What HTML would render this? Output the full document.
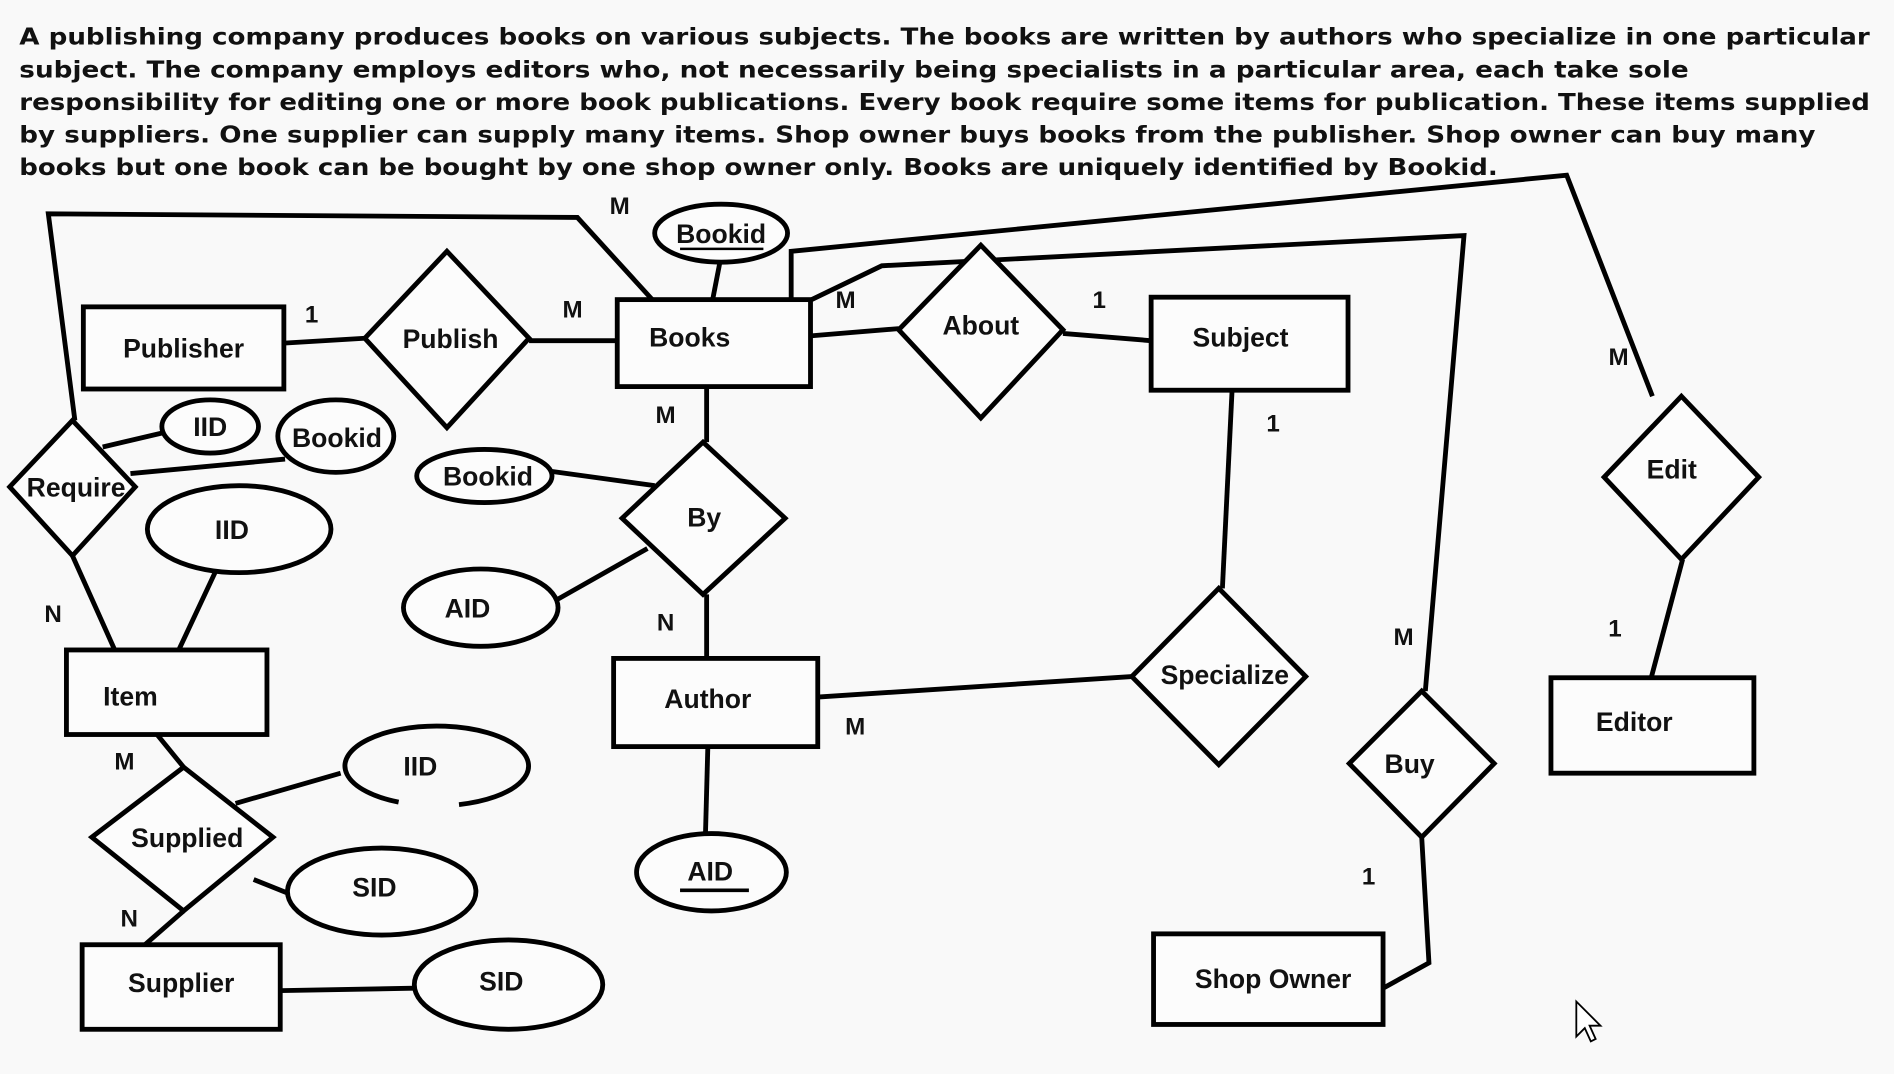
<!DOCTYPE html>
<html><head><meta charset="utf-8"><style>
html,body{margin:0;padding:0;background:#f9f9f9;}
svg{display:block;}
.t{font-family:"DejaVu Sans","Liberation Sans",sans-serif;font-weight:bold;font-size:19px;fill:#111;}
.n{font-family:"Liberation Sans",sans-serif;font-weight:bold;font-size:22px;fill:#111;text-anchor:middle;}
.c{font-family:"Liberation Sans",sans-serif;font-weight:bold;font-size:20px;fill:#111;text-anchor:middle;}
.s{fill:none;stroke:#000;stroke-width:4;stroke-linejoin:miter;}
.f{fill:#fcfcfc;stroke:#000;stroke-width:4;}
</style></head><body>
<svg width="1894" height="1074" viewBox="0 0 1568 889" preserveAspectRatio="none" xmlns="http://www.w3.org/2000/svg">
<rect width="1568" height="889" fill="#f9f9f9"/>
<text class="t" x="16" y="37" textLength="1532" lengthAdjust="spacingAndGlyphs">A publishing company produces books on various subjects. The books are written by authors who specialize in one particular</text>
<text class="t" x="16" y="64" textLength="1382" lengthAdjust="spacingAndGlyphs">subject. The company employs editors who, not necessarily being specialists in a particular area, each take sole</text>
<text class="t" x="16" y="91" textLength="1532" lengthAdjust="spacingAndGlyphs">responsibility for editing one or more book publications. Every book require some items for publication. These items supplied</text>
<text class="t" x="16" y="118" textLength="1487" lengthAdjust="spacingAndGlyphs">by suppliers. One supplier can supply many items. Shop owner buys books from the publisher. Shop owner can buy many</text>
<text class="t" x="16" y="145" textLength="1224" lengthAdjust="spacingAndGlyphs">books but one book can be bought by one shop owner only. Books are uniquely identified by Bookid.</text>

<!-- connectors -->
<g class="s">
<line x1="235" y1="284" x2="302" y2="280"/>
<line x1="438" y1="282" x2="511" y2="282"/>
<line x1="590" y1="248" x2="596" y2="217"/>
<line x1="671" y1="278" x2="744" y2="272"/>
<polyline points="880,276 953,282 960,288"/>
<line x1="1020" y1="323" x2="1012" y2="487"/>
<line x1="937" y1="560" x2="677" y2="577"/>
<line x1="585" y1="320" x2="585" y2="366"/>
<line x1="585" y1="492" x2="585" y2="545"/>
<line x1="455" y1="390" x2="542" y2="402"/>
<line x1="460" y1="497" x2="536" y2="454"/>
<line x1="586" y1="618" x2="584" y2="692"/>
<polyline points="540,248 478,180 40,177 62,348"/>
<polyline points="655,248 655,208 1297,145 1368,328"/>
<polyline points="672,248 730,220 1212,195 1180,572"/>
<line x1="1393" y1="463" x2="1367" y2="561"/>
<polyline points="1177,693 1183,797 1145,818"/>
<line x1="85" y1="370" x2="136" y2="358"/>
<line x1="108" y1="392" x2="236" y2="380"/>
<line x1="60" y1="460" x2="95" y2="538"/>
<line x1="178" y1="474" x2="148" y2="538"/>
<line x1="130" y1="608" x2="152" y2="635"/>
<line x1="195" y1="665" x2="282" y2="640"/>
<line x1="210" y1="728" x2="240" y2="740"/>
<line x1="152" y1="754" x2="120" y2="782"/>
<line x1="232" y1="820" x2="343" y2="818"/>
</g>

<!-- entities -->
<rect class="f" x="69" y="254" width="166" height="68"/>
<rect class="f" x="511" y="248" width="160" height="72"/>
<rect class="f" x="953" y="246" width="163" height="77"/>
<rect class="f" x="1284" y="561" width="168" height="79"/>
<rect class="f" x="55" y="538" width="166" height="70"/>
<rect class="f" x="508" y="545" width="169" height="73"/>
<rect class="f" x="68" y="782" width="164" height="70"/>
<rect class="f" x="955" y="773" width="190" height="75"/>

<!-- relationships -->
<polygon class="f" points="370,208 438,280 370,354 302,280"/>
<polygon class="f" points="812,203 880,273 812,346 744,273"/>
<polygon class="f" points="1392,328 1456,395 1392,463 1328,395"/>
<polygon class="f" points="60,348 112,403 60,460 8,403"/>
<polygon class="f" points="582,366 650,429 582,492 515,429"/>
<polygon class="f" points="1009,487 1081,560 1009,633 937,560"/>
<polygon class="f" points="1177,572 1237,632 1177,693 1117,632"/>
<polygon class="f" points="152,635 226,693 152,754 76,693"/>

<!-- attributes -->
<ellipse class="f" cx="597" cy="193" rx="55" ry="24"/>
<ellipse class="f" cx="174" cy="353" rx="40" ry="22"/>
<ellipse class="f" cx="278" cy="361" rx="48" ry="30"/>
<ellipse class="f" cx="198" cy="438" rx="76" ry="36"/>
<ellipse class="f" cx="401" cy="394" rx="56" ry="22"/>
<ellipse class="f" cx="398" cy="503" rx="64" ry="32"/>
<path class="s" d="M330,664 A76,33 0 1 1 380,666" fill="#fcfcfc"/>
<ellipse class="f" cx="316" cy="738" rx="78" ry="36"/>
<ellipse class="f" cx="589" cy="722" rx="62" ry="32"/>
<ellipse class="f" cx="421" cy="815" rx="78" ry="37"/>

<!-- labels -->
<text class="n" x="152" y="296">Publisher</text>
<text class="n" x="373" y="288">Publish</text>
<text class="n" x="571" y="287">Books</text>
<text class="n" x="597" y="201">Bookid</text>
<line x1="563" y1="206" x2="632" y2="206" stroke="#000" stroke-width="2"/>
<text class="n" x="812" y="277">About</text>
<text class="n" x="1027" y="287">Subject</text>
<text class="n" x="1384" y="396">Edit</text>
<text class="n" x="1353" y="605">Editor</text>
<text class="n" x="63" y="411">Require</text>
<text class="n" x="174" y="361">IID</text>
<text class="n" x="279" y="370">Bookid</text>
<text class="n" x="192" y="446">IID</text>
<text class="n" x="404" y="402">Bookid</text>
<text class="n" x="583" y="436">By</text>
<text class="n" x="387" y="511">AID</text>
<text class="n" x="108" y="584">Item</text>
<text class="n" x="586" y="586">Author</text>
<text class="n" x="1014" y="566">Specialize</text>
<text class="n" x="1167" y="640">Buy</text>
<text class="n" x="155" y="701">Supplied</text>
<text class="n" x="348" y="642">IID</text>
<text class="n" x="310" y="742">SID</text>
<text class="n" x="588" y="729">AID</text>
<line x1="563" y1="737" x2="620" y2="737" stroke="#000" stroke-width="3"/>
<text class="n" x="150" y="821">Supplier</text>
<text class="n" x="415" y="820">SID</text>
<text class="n" x="1054" y="818">Shop Owner</text>

<!-- cardinalities -->
<text class="c" x="513" y="177">M</text>
<text class="c" x="258" y="267">1</text>
<text class="c" x="474" y="263">M</text>
<text class="c" x="700" y="255">M</text>
<text class="c" x="910" y="255">1</text>
<text class="c" x="1340" y="302">M</text>
<text class="c" x="1054" y="357">1</text>
<text class="c" x="551" y="350">M</text>
<text class="c" x="551" y="522">N</text>
<text class="c" x="44" y="515">N</text>
<text class="c" x="708" y="608">M</text>
<text class="c" x="1162" y="534">M</text>
<text class="c" x="1337" y="527">1</text>
<text class="c" x="1133" y="732">1</text>
<text class="c" x="103" y="637">M</text>
<text class="c" x="107" y="767">N</text>

<!-- cursor -->
<path d="M1305,829 L1305,858 L1312,851 L1317,862 L1321,860 L1316,849 L1325,849 Z" fill="#fff" stroke="#000" stroke-width="1.5"/>
</svg>
</body></html>
